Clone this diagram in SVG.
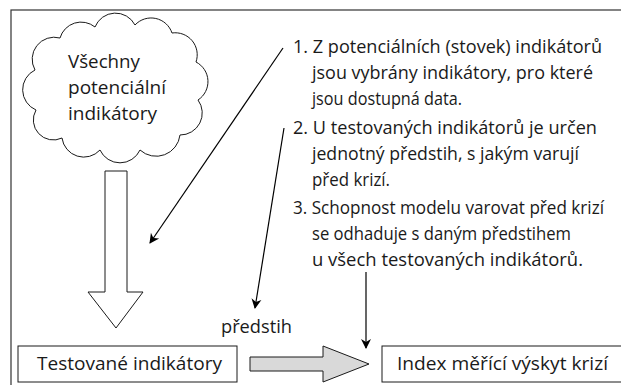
<svg xmlns="http://www.w3.org/2000/svg" width="621" height="385" viewBox="0 0 621 385">
<style>
text{font-family:"Open Sans","Noto Sans",sans-serif;font-size:17.5px;fill:#1a1a1a}
.box{fill:#fff;stroke:#1a1a1a;stroke-width:1}
.ln{stroke:#000;stroke-width:1.2;fill:none}
</style>
<defs>
<marker id="ah" viewBox="0 0 10 10" refX="9" refY="5" markerWidth="10" markerHeight="12" markerUnits="userSpaceOnUse" orient="auto">
<path d="M0,0 L10,5 L0,10 L3,5 Z" fill="#000"/>
</marker>
</defs>
<rect x="11" y="10" width="620" height="385" fill="#fff" stroke="#333" stroke-width="1.2"/>
<g id="cloud">
<path class="box" d="M60,38 A22,22 0 0 1 95,27 A22,22 0 0 1 135,25 A22,22 0 0 1 172,33 A22,22 0 0 1 196,62 A22,22 0 0 1 198,100 A22,22 0 0 1 180,135 A24,24 0 0 1 140,150 A22,22 0 0 1 100,150 A22,22 0 0 1 62,138 A20,20 0 0 1 36,110 A22,22 0 0 1 35,70 A22,22 0 0 1 60,38 Z"/>
<text x="68" y="68" textLength="72" lengthAdjust="spacingAndGlyphs">Všechny</text>
<text x="68" y="94" textLength="98" lengthAdjust="spacingAndGlyphs">potenciální</text>
<text x="68" y="120" textLength="89" lengthAdjust="spacingAndGlyphs">indikátory</text>
</g>
<g id="hollow-arrow">
<path class="box" d="M105,171 L127,171 L127,292 L143,292 L116,328 L88,292 L105,292 Z"/>
</g>
<g id="notes">
<text x="293" y="53" textLength="309" lengthAdjust="spacingAndGlyphs">1. Z potenciálních (stovek) indikátorů</text>
<text x="312" y="79" textLength="281" lengthAdjust="spacingAndGlyphs">jsou vybrány indikátory, pro které</text>
<text x="312" y="105" textLength="150" lengthAdjust="spacingAndGlyphs">jsou dostupná data.</text>
<text x="293" y="134" textLength="304" lengthAdjust="spacingAndGlyphs">2. U testovaných indikátorů je určen</text>
<text x="312" y="160" textLength="267" lengthAdjust="spacingAndGlyphs">jednotný předstih, s jakým varují</text>
<text x="312" y="186" textLength="78" lengthAdjust="spacingAndGlyphs">před krizí.</text>
<text x="293" y="214" textLength="311" lengthAdjust="spacingAndGlyphs">3. Schopnost modelu varovat před krizí</text>
<text x="312" y="240" textLength="259" lengthAdjust="spacingAndGlyphs">se odhaduje s daným předstihem</text>
<text x="312" y="266" textLength="271" lengthAdjust="spacingAndGlyphs">u všech testovaných indikátorů.</text>
</g>
<g id="testovane">
<rect class="box" x="18" y="346" width="219" height="36"/>
<text x="37" y="370" textLength="185" lengthAdjust="spacingAndGlyphs">Testované indikátory</text>
</g>
<g id="gray-arrow">
<path d="M250,357 L323,357 L323,346 L369,364 L323,382 L323,371 L250,371 Z" fill="#d9d9d9" stroke="#1a1a1a" stroke-width="1"/>
</g>
<g id="index">
<rect class="box" x="382" y="346" width="260" height="36"/>
<text x="397" y="370" textLength="211" lengthAdjust="spacingAndGlyphs">Index měřící výskyt krizí</text>
</g>
<g id="predstih">
<text x="221" y="333" textLength="71" lengthAdjust="spacingAndGlyphs">předstih</text>
</g>
<g id="connectors">
<line class="ln" x1="283" y1="48" x2="150" y2="243" marker-end="url(#ah)"/>
<line class="ln" x1="284" y1="128" x2="255" y2="308" marker-end="url(#ah)"/>
<line class="ln" x1="366" y1="272" x2="366" y2="348" marker-end="url(#ah)"/>
</g>
</svg>
